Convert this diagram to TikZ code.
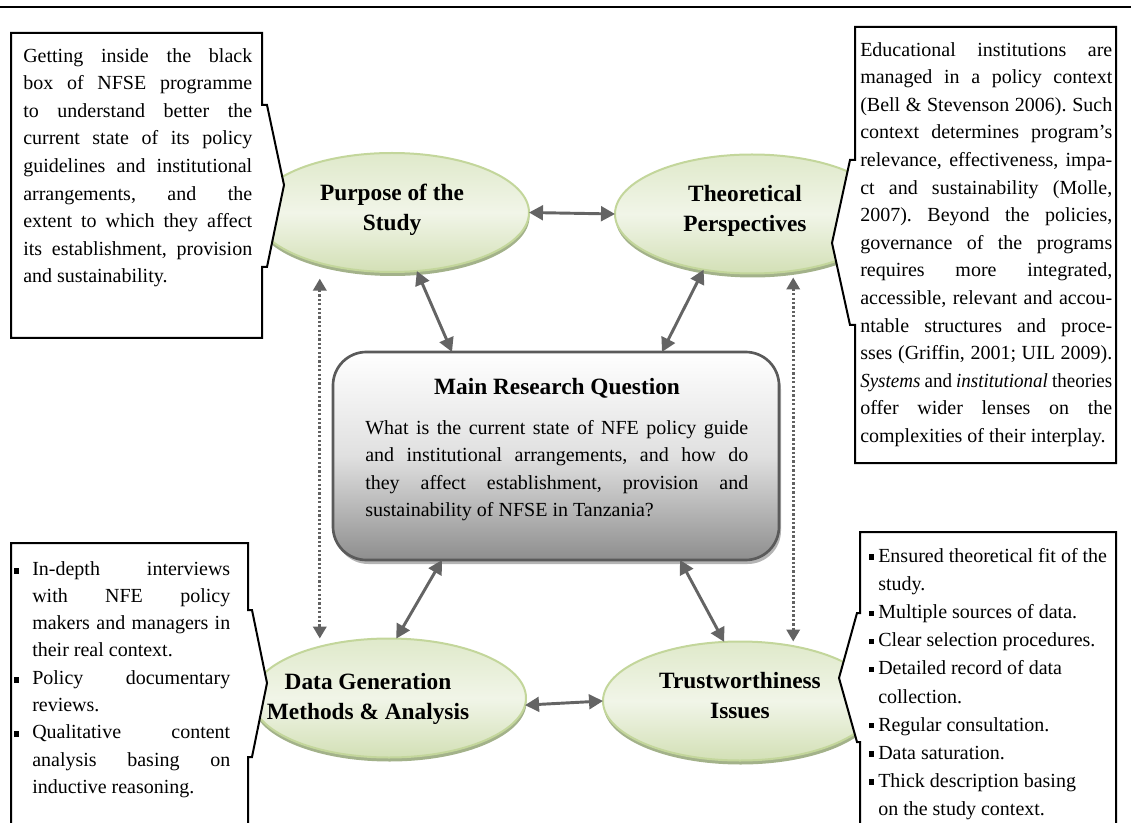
\documentclass[tikz,border=0pt]{standalone}
\usepackage{fontspec}
\setmainfont{Liberation Serif}
\usetikzlibrary{arrows.meta,shapes.geometric,shadows}
\frenchspacing

\definecolor{ellborder}{HTML}{C3D69B}
\definecolor{elltop}{HTML}{DFE9CA}
\definecolor{ellmid}{HTML}{F1F5E8}
\definecolor{ellbot}{HTML}{D3E0B6}
\definecolor{ellshadow}{HTML}{A3B28A}
\definecolor{arrowgray}{HTML}{646464}
\definecolor{dotgray}{HTML}{626262}
\definecolor{boxline}{HTML}{5A5A5A}
\definecolor{boxmid}{HTML}{E0E0E0}
\definecolor{boxbottom}{HTML}{8E8E8E}
\definecolor{boxshadow}{HTML}{B4B4B4}

% widths of the justified text columns
\newlength{\wTL}\setlength{\wTL}{171.75pt}
\newlength{\wTR}\setlength{\wTR}{189pt}
\newlength{\wMQ}\setlength{\wMQ}{287.25pt}
\newlength{\wBL}\setlength{\wBL}{148.5pt}
% one justified line of a given width
\newcommand{\jl}[2]{\makebox[#1][s]{#2}}
% the same, slightly condensed for an over-long line
\newcommand{\jlc}[2]{\scalebox{0.95}[1]{\makebox[1.0526#1][s]{#2}}}
% hanging square bullets
\newcommand{\sqbulletL}{\makebox[0pt][r]{\rule[1.2pt]{4.4pt}{4.4pt}\hspace{9.6pt}}}
\newcommand{\sqbulletR}{\makebox[0pt][r]{\rule[2pt]{4pt}{4pt}\hspace{3pt}}}

\begin{document}
\begin{tikzpicture}[x=0.75pt, y=-0.75pt,
  topic/.style={ellipse, draw=ellborder, line width=1.5pt,
    minimum width=205.5pt, minimum height=89.25pt, inner sep=0pt, outer sep=0pt,
    top color=elltop, bottom color=ellbot, middle color=ellmid,
    drop shadow={shadow xshift=0.4pt, shadow yshift=-3pt, fill=ellshadow, opacity=1}},
  topiclabel/.style={align=center, inner sep=0pt,
    font=\fontsize{17.5}{22.5}\selectfont\bfseries},
  mainbox/.style={rectangle, rounded corners=25pt, draw=boxline, line width=2pt,
    minimum width=334.5pt, minimum height=156pt, inner sep=0pt, outer sep=0pt,
    top color=white, bottom color=boxbottom, middle color=boxmid,
    drop shadow={shadow xshift=1.5pt, shadow yshift=-3pt, fill=boxshadow, opacity=1}},
  biarrow/.style={{Triangle[length=10.5pt,width=11pt]}-{Triangle[length=10.5pt,width=11pt]},
    draw=arrowgray, line width=2.2pt},
  dotarrow/.style={{Triangle[length=9pt,width=10pt]}-{Triangle[length=9pt,width=10pt]},
    draw=dotgray, line width=2pt, dash pattern=on 1.7pt off 1.6pt},
  callout/.style={draw=black, line width=1.5pt, fill=white, line join=miter},
  calltext/.style={anchor=north west, inner sep=0pt, align=left,
    font=\fontsize{15}{20.7}\selectfont}
]
\useasboundingbox (0,0) rectangle (1131,823);

% rule across the top
\draw[line width=1.5pt] (0,7) -- (1131,7);

% the four topics and the central question
\node[topic] (purpose) at (392,212.5) {};
\node[topic] (theo) at (752,214) {};
\node[topic] (data) at (389,698) {};
\node[topic] (trust) at (740,701) {};
\node[mainbox] (main) at (556,456) {};

\node[topiclabel] (purposeT) at (392,210) {Purpose of the\\Study};
\node[topiclabel] (theoT) at (745,211) {Theoretical\\Perspectives};
\node[topiclabel] (dataT) at (368,699) {Data Generation\\Methods \& Analysis};
\node[topiclabel] (trustT) at (740,695.5) {Trustworthiness\\Issues};

\node[anchor=base, inner sep=0pt, font=\fontsize{17.5}{21}\selectfont\bfseries]
  (mainT) at (557,394) {Main Research Question};
\node[calltext, font=\fontsize{15}{20.6}\selectfont] (mainQ) at (365,420) {%
\jl{\wMQ}{What is the current state of NFE policy guide}\\
\jl{\wMQ}{and institutional arrangements, and how do}\\
\jl{\wMQ}{they affect establishment, provision and}\\
sustainability of NFSE in Tanzania?};

% connectors
\draw[biarrow] (purpose.east) -- (theo.west);
\draw[biarrow] (purpose.-67) -- ([xshift=-78pt]main.north);
\draw[biarrow] (theo.-131) -- ([xshift=79.5pt]main.north);
\draw[biarrow] ([xshift=-85.5pt]main.south) -- (data.83);
\draw[biarrow] ([xshift=93pt]main.south) -- (trust.105);
\draw[biarrow] (data.-3) -- (trust.west);
\draw[dotarrow, shorten <=5pt] (purpose.215 |- purpose.south) -- (purpose.215 |- data.north);
\draw[dotarrow, shorten <=3pt] (theo.-54 |- theo.south) -- (theo.-54 |- trust.north);

% callout boxes
\draw[callout] (11,33) -- (262,33) -- (262,105) -- (267,105) -- (284,185)
  -- (267,267) -- (262,267) -- (262,338) -- (11,338) -- cycle;
\draw[callout] (855,27) -- (1116,27) -- (1116,463) -- (855,463) -- (855,325)
  -- (850,325) -- (832,243) -- (850,160) -- (855,160) -- cycle;
\draw[callout] (11,543) -- (248,543) -- (248,610) -- (252,610) -- (267,683)
  -- (252,757) -- (248,757) -- (248,845) -- (11,845) -- cycle;
\draw[callout] (860,532) -- (1116,532) -- (1116,845) -- (860,845) -- (860,742)
  -- (857,742) -- (839,678) -- (857,613) -- (860,613) -- cycle;

\node[calltext] (purposeC) at (23,48) {%
\jl{\wTL}{Getting inside the black}\\
\jl{\wTL}{box of NFSE programme}\\
\jl{\wTL}{to understand better the}\\
\jl{\wTL}{current state of its policy}\\
\jl{\wTL}{guidelines and institutional}\\
\jl{\wTL}{arrangements, and the}\\
\jl{\wTL}{extent to which they affect}\\
\jl{\wTL}{its establishment, provision}\\
and sustainability.};

\node[calltext] (theoC) at (860,42) {%
\jl{\wTR}{Educational institutions are}\\
\jl{\wTR}{managed in a policy context}\\
\jl{\wTR}{(Bell \& Stevenson 2006). Such}\\
\jl{\wTR}{context determines program's}\\
\jl{\wTR}{relevance, effectiveness, impa-}\\
\jl{\wTR}{ct and sustainability (Molle,}\\
\jl{\wTR}{2007). Beyond the policies,}\\
\jl{\wTR}{governance of the programs}\\
\jl{\wTR}{requires more integrated,}\\
\jl{\wTR}{accessible, relevant and accou-}\\
\jl{\wTR}{ntable structures and proce-}\\
\jl{\wTR}{sses (Griffin, 2001; UIL 2009).}\\
\jlc{\wTR}{\emph{Systems} and \emph{institutional} theories}\\
\jl{\wTR}{offer wider lenses on the}\\
complexities of their interplay.};

\node[calltext, font=\fontsize{15}{20.45}\selectfont] (dataC) at (32,561) {%
\sqbulletL\jl{\wBL}{In-depth interviews}\\
\jl{\wBL}{with NFE policy}\\
\jl{\wBL}{makers and managers in}\\
their real context.\\
\sqbulletL\jl{\wBL}{Policy documentary}\\
reviews.\\
\sqbulletL\jl{\wBL}{Qualitative content}\\
\jl{\wBL}{analysis basing on}\\
inductive reasoning.};

\node[calltext, font=\fontsize{15}{21.1}\selectfont] (trustC) at (878,548) {%
\sqbulletR Ensured theoretical fit of the\\
study.\\
\sqbulletR Multiple sources of data.\\
\sqbulletR Clear selection procedures.\\
\sqbulletR Detailed record of data\\
collection.\\
\sqbulletR Regular consultation.\\
\sqbulletR Data saturation.\\
\sqbulletR Thick description basing\\
on the study context.};
\end{tikzpicture}
\end{document}
